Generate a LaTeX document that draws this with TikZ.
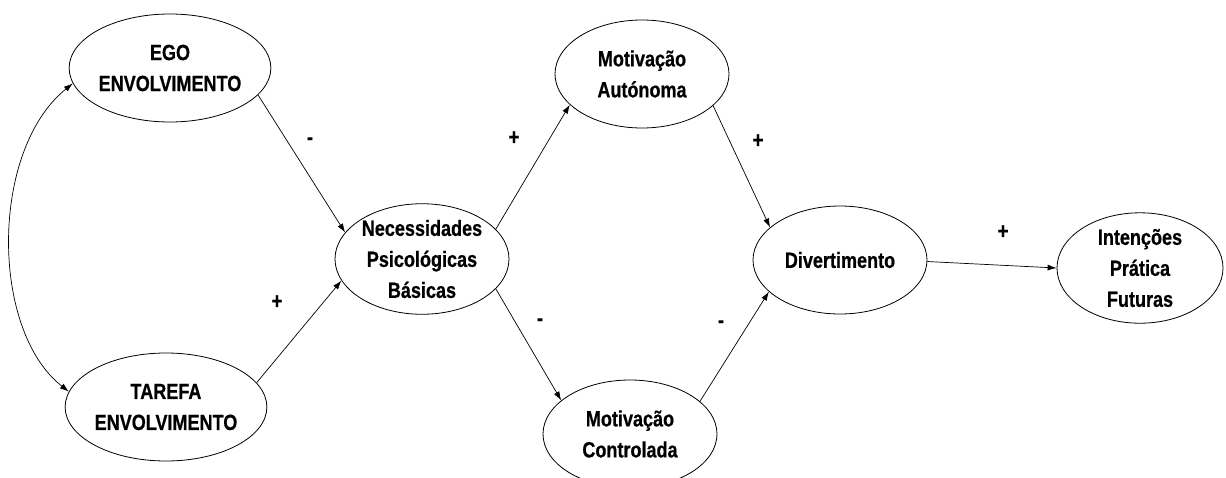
\documentclass[tikz,border=0pt]{standalone}
\usepackage{fontspec}
\setmainfont{Liberation Sans}[FakeStretch=0.82,FakeBold=0.6]
\usetikzlibrary{shapes.geometric,arrows.meta}

\begin{document}
\begin{tikzpicture}[x=1pt,y=-1pt,
  var/.style={draw, ellipse, line width=0.8pt, minimum width=174pt,
    minimum height=108pt, inner sep=0pt, align=center,
    font=\bfseries\fontsize{22}{31}\selectfont},
  link/.style={-{Latex[length=9pt,width=6pt]}, line width=0.7pt},
  sign/.style={font=\bfseries\fontsize{23}{26}\selectfont, inner sep=0pt}]
\useasboundingbox (0,0) rectangle (1226,477);

% latent variables
\node[var] (ego)  at (170,68)  {EGO\\ENVOLVIMENTO};
\node[var] (tar)  at (166,407) {TAREFA\\ENVOLVIMENTO};
\node[var] (nec)  at (422,259) {Necessidades\\Psicológicas\\Básicas};
\node[var] (mota) at (642,74)  {Motivação\\Autónoma};
\node[var] (motc) at (630,434) {Motivação\\Controlada};
\node[var] (div)  at (840,260) {Divertimento};
\node[var, minimum width=166pt, minimum height=106pt] (int) at (1140,268) {Intenções\\Prática\\Futuras};

% correlation between the two orientations
\draw[{Latex[length=9pt,width=6pt]}-{Latex[length=9pt,width=6pt]}, line width=0.7pt]
  (tar.171) .. controls (-10,330) and (-10,150) .. (ego.189);

% paths
\draw[link] (ego.-17)  -- (nec.161);
\draw[link] (tar.15)   -- (nec.195);
\draw[link] (nec.22)   -- (mota.203);
\draw[link] (nec.-22)  -- (motc.154);
\draw[link] (mota.-24) -- (div.155);
\draw[link] (motc.25)  -- (div.204);
\draw[link] (div.-1)   -- (int.west);

% path signs
\node[sign] (s1) at (310,141) {-};
\node[sign] (s2) at (277,302) {+};
\node[sign] (s3) at (514,138) {+};
\node[sign] (s4) at (540,322) {-};
\node[sign] (s5) at (758,141) {+};
\node[sign] (s6) at (721,324) {-};
\node[sign] (s7) at (1003,232) {+};
\end{tikzpicture}
\end{document}
